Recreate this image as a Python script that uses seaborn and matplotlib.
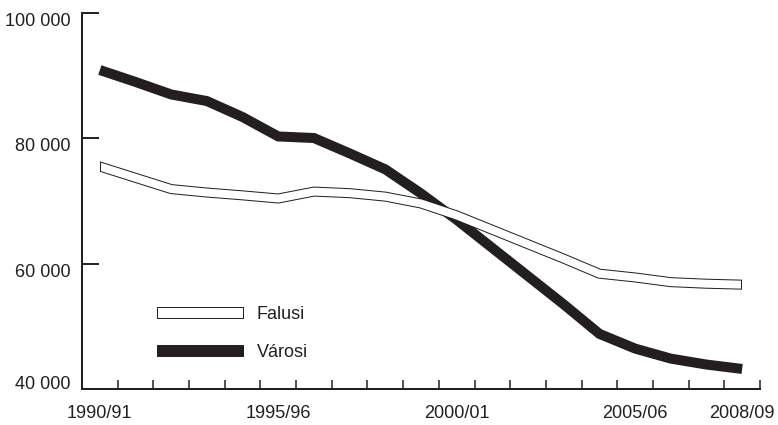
import matplotlib
matplotlib.use('Agg')
import matplotlib.pyplot as plt
import matplotlib.patches as mpatches
import numpy as np
import pandas as pd
import seaborn as sns

# tanévek és tanulólétszám (falusi / városi)
evek = ['1990/91', '1991/92', '1992/93', '1993/94', '1994/95', '1995/96',
        '1996/97', '1997/98', '1998/99', '1999/00', '2000/01', '2001/02',
        '2002/03', '2003/04', '2004/05', '2005/06', '2006/07', '2007/08',
        '2008/09']
falusi = [75500, 73700, 71900, 71350, 70900, 70400, 71500, 71250, 70700,
          69600, 67700, 65400, 63100, 60800, 58400, 57800, 57050, 56800,
          56650]
varosi = [90900, 89000, 87000, 85950, 83400, 80300, 80050, 77600, 75050,
          71200, 67000, 62500, 58000, 53500, 48800, 46450, 44850, 43900,
          43200]

cimke_idx = [0, 5, 10, 15, 18]
y_ticks = [40000, 60000, 80000, 100000]
y_cimkek = ['40 000', '60 000', '80 000', '100 000']

FEKETE = '#231f20'
PX = 0.72  # 1 pixel pontban (dpi=100)

sns.set_style('ticks')
plt.rcParams['font.family'] = ['Liberation Sans', 'DejaVu Sans']

df = pd.DataFrame({'idx': np.arange(len(evek)), 'ev': evek,
                   'Falusi': falusi, 'Városi': varosi})

fig = plt.figure(figsize=(7.78, 4.25), dpi=100)
ax = fig.add_axes([82 / 778, 1 - 389 / 425, 678 / 778, 376 / 425])

# városi: vastag fekete vonal
sns.lineplot(data=df, x='idx', y='Városi', ax=ax, color=FEKETE, linewidth=10 * PX)
v_line = ax.lines[-1]
v_line.set_solid_capstyle('butt')
v_line.set_solid_joinstyle('miter')

# falusi: "üreges" vonal = fekete külső + fehér belső
sns.lineplot(data=df, x='idx', y='Falusi', ax=ax, color=FEKETE, linewidth=10 * PX)
f_kulso = ax.lines[-1]
sns.lineplot(data=df, x='idx', y='Falusi', ax=ax, color='white', linewidth=8 * PX)
f_belso = ax.lines[-1]

px_egyseg = 1 / 35.68  # egy pixel x-adategységben
n = len(evek) - 1
for line, d in [(f_kulso, 0), (f_belso, 1.3 * px_egyseg)]:
    line.set_solid_capstyle('projecting')
    line.set_solid_joinstyle('miter')
    clip = mpatches.Rectangle((d, 0), n - 2 * d, 300000, transform=ax.transData)
    line.set_clip_path(clip)

ax.set_xlim(-0.5, len(evek) - 0.5)
ax.set_ylim(40000, 100000)
ax.set_xticks(cimke_idx, [evek[i] for i in cimke_idx])
ax.set_xticks(np.arange(len(evek) + 1) - 0.5, minor=True)
ax.set_yticks(y_ticks, y_cimkek)
ax.set_xlabel('')
ax.set_ylabel('')

ax.tick_params(axis='x', which='major', length=0, pad=11.5, labelsize=13,
               labelcolor=FEKETE)
ax.tick_params(axis='x', which='minor', direction='in', length=6.5, width=1.1,
               color=FEKETE)
ax.tick_params(axis='y', which='major', direction='in', length=12.2, width=1.4,
               pad=8, labelsize=13, color=FEKETE, labelcolor=FEKETE)
for i, lab in enumerate(ax.get_yticklabels()):
    lab.set_verticalalignment('baseline' if i == 0 else 'top')

sns.despine(ax=ax)
for s in ['left', 'bottom']:
    ax.spines[s].set_linewidth(1.44)
    ax.spines[s].set_color(FEKETE)

handles = [mpatches.Patch(facecolor='white', edgecolor=FEKETE, linewidth=PX, label='Falusi'),
           mpatches.Patch(facecolor=FEKETE, edgecolor=FEKETE, linewidth=PX, label='Városi')]
ax.legend(handles=handles, loc='center left', bbox_to_anchor=(0.1106, 0.1477),
          frameon=False, fontsize=13, handlelength=4.76, handleheight=0.5,
          handletextpad=0.75, labelspacing=1.17, borderpad=0, borderaxespad=0,
          labelcolor=FEKETE)

fig.savefig('out.png', dpi=100)
plt.close(fig)
